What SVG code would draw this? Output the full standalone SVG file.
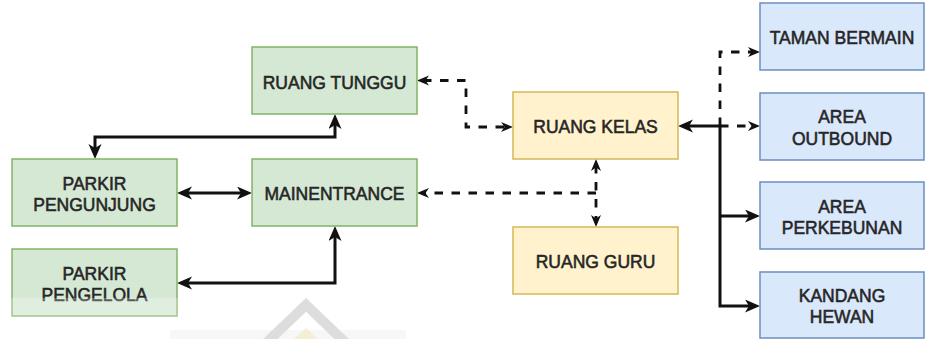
<svg xmlns="http://www.w3.org/2000/svg" width="925" height="339" viewBox="0 0 925 339">
  <style>
    .box { stroke-width: 1.5; }
    .green { fill: #d5e8d4; stroke: #82b366; }
    .yellow { fill: #fff2cc; stroke: #d6b656; }
    .blue { fill: #dae8fc; stroke: #6c8ebf; }
    .label { font-family: "Liberation Sans", Arial, sans-serif; font-size: 17.5px; fill: #262626; stroke: #262626; stroke-width: 0.55; text-anchor: middle; }
    .solid { fill: none; stroke: #111; stroke-width: 3; }
    .dash { fill: none; stroke: #111; stroke-width: 2.8; stroke-dasharray: 8.5 8.5; }
  </style>
  <defs>
    <marker id="arrow" markerUnits="userSpaceOnUse" markerWidth="16" markerHeight="14" refX="9" refY="6.5" orient="auto-start-reverse">
      <path d="M0,0 L15,6.5 L0,13 L4,6.5 Z" fill="#111"/>
    </marker>
    <marker id="arrowSmall" markerUnits="userSpaceOnUse" markerWidth="13" markerHeight="11" refX="6" refY="5" orient="auto-start-reverse">
      <path d="M0,0 L12,5 L0,10 L3.5,5 Z" fill="#111"/>
    </marker>
  </defs>

  <rect width="925" height="339" fill="#ffffff"/>

  <!-- faint logo near the bottom edge -->
  <g id="watermark">
    <rect x="170" y="330" width="236" height="9" fill="#f4f4f4"/>
    <polyline points="264,345 306,305 348,345" fill="none" stroke="#d2d2d2" stroke-width="10"/>
    <polygon points="294,339 306,328 318,339" fill="#efe9c6"/>
  </g>

  <!-- connectors -->
  <g id="connectors">
    <path class="solid" d="M335,120 V137 H95 V153" marker-start="url(#arrow)" marker-end="url(#arrow)"/>
    <path class="solid" d="M183,193 H246" marker-start="url(#arrow)" marker-end="url(#arrow)"/>
    <path class="solid" d="M335,232 V283 H183" marker-start="url(#arrow)" marker-end="url(#arrow)"/>
    <path class="dash" d="M423,80.5 H466 V127 H507" marker-start="url(#arrowSmall)" marker-end="url(#arrowSmall)"/>
    <path class="dash" d="M596,193 H423" marker-end="url(#arrowSmall)"/>
    <path class="dash" d="M596,165 V221" marker-start="url(#arrowSmall)" marker-end="url(#arrowSmall)"/>
    <path class="dash" d="M720,126 V52 H754" marker-end="url(#arrowSmall)"/>
    <path class="dash" d="M720,126 H754" marker-end="url(#arrowSmall)"/>
    <path class="solid" d="M720,126 H684" marker-end="url(#arrow)"/>
    <path class="solid" d="M720,124.5 V306 H754" marker-end="url(#arrow)"/>
    <path class="solid" d="M720,216 H754" marker-end="url(#arrow)"/>
  </g>

  <g id="ruang-tunggu">
    <rect class="box green" x="252" y="47" width="165" height="67"/>
    <text class="label" x="334.5" y="88.5">RUANG TUNGGU</text>
  </g>
  <g id="parkir-pengunjung">
    <rect class="box green" x="12" y="159" width="165" height="67"/>
    <text class="label" x="94.5" y="189.5">PARKIR</text>
    <text class="label" x="94.5" y="210.5">PENGUNJUNG</text>
  </g>
  <g id="mainentrance">
    <rect class="box green" x="252" y="159" width="165" height="67"/>
    <text class="label" x="334.5" y="200">MAINENTRANCE</text>
  </g>
  <g id="parkir-pengelola">
    <rect class="box green" x="12" y="249" width="165" height="67"/>
    <text class="label" x="94.5" y="280">PARKIR</text>
    <text class="label" x="94.5" y="300.5">PENGELOLA</text>
  </g>
  <g id="ruang-kelas">
    <rect class="box yellow" x="513" y="92" width="165" height="67"/>
    <text class="label" x="595.5" y="133">RUANG KELAS</text>
  </g>
  <g id="ruang-guru">
    <rect class="box yellow" x="513" y="227" width="165" height="67"/>
    <text class="label" x="595.5" y="268">RUANG GURU</text>
  </g>
  <g id="taman-bermain">
    <rect class="box blue" x="760" y="3" width="164" height="67"/>
    <text class="label" x="842" y="43.5">TAMAN BERMAIN</text>
  </g>
  <g id="area-outbound">
    <rect class="box blue" x="760" y="93" width="164" height="67"/>
    <text class="label" x="842" y="123">AREA</text>
    <text class="label" x="842" y="145">OUTBOUND</text>
  </g>
  <g id="area-perkebunan">
    <rect class="box blue" x="760" y="182" width="164" height="67"/>
    <text class="label" x="842" y="212.5">AREA</text>
    <text class="label" x="842" y="233.5">PERKEBUNAN</text>
  </g>
  <g id="kandang-hewan">
    <rect class="box blue" x="760" y="272" width="164" height="66"/>
    <text class="label" x="842" y="302">KANDANG</text>
    <text class="label" x="842" y="322.5">HEWAN</text>
  </g>

  <!-- soft light veil over the lower left corner -->
  <rect x="0" y="298" width="410" height="41" fill="#ffffff" opacity="0.25"/>
</svg>
